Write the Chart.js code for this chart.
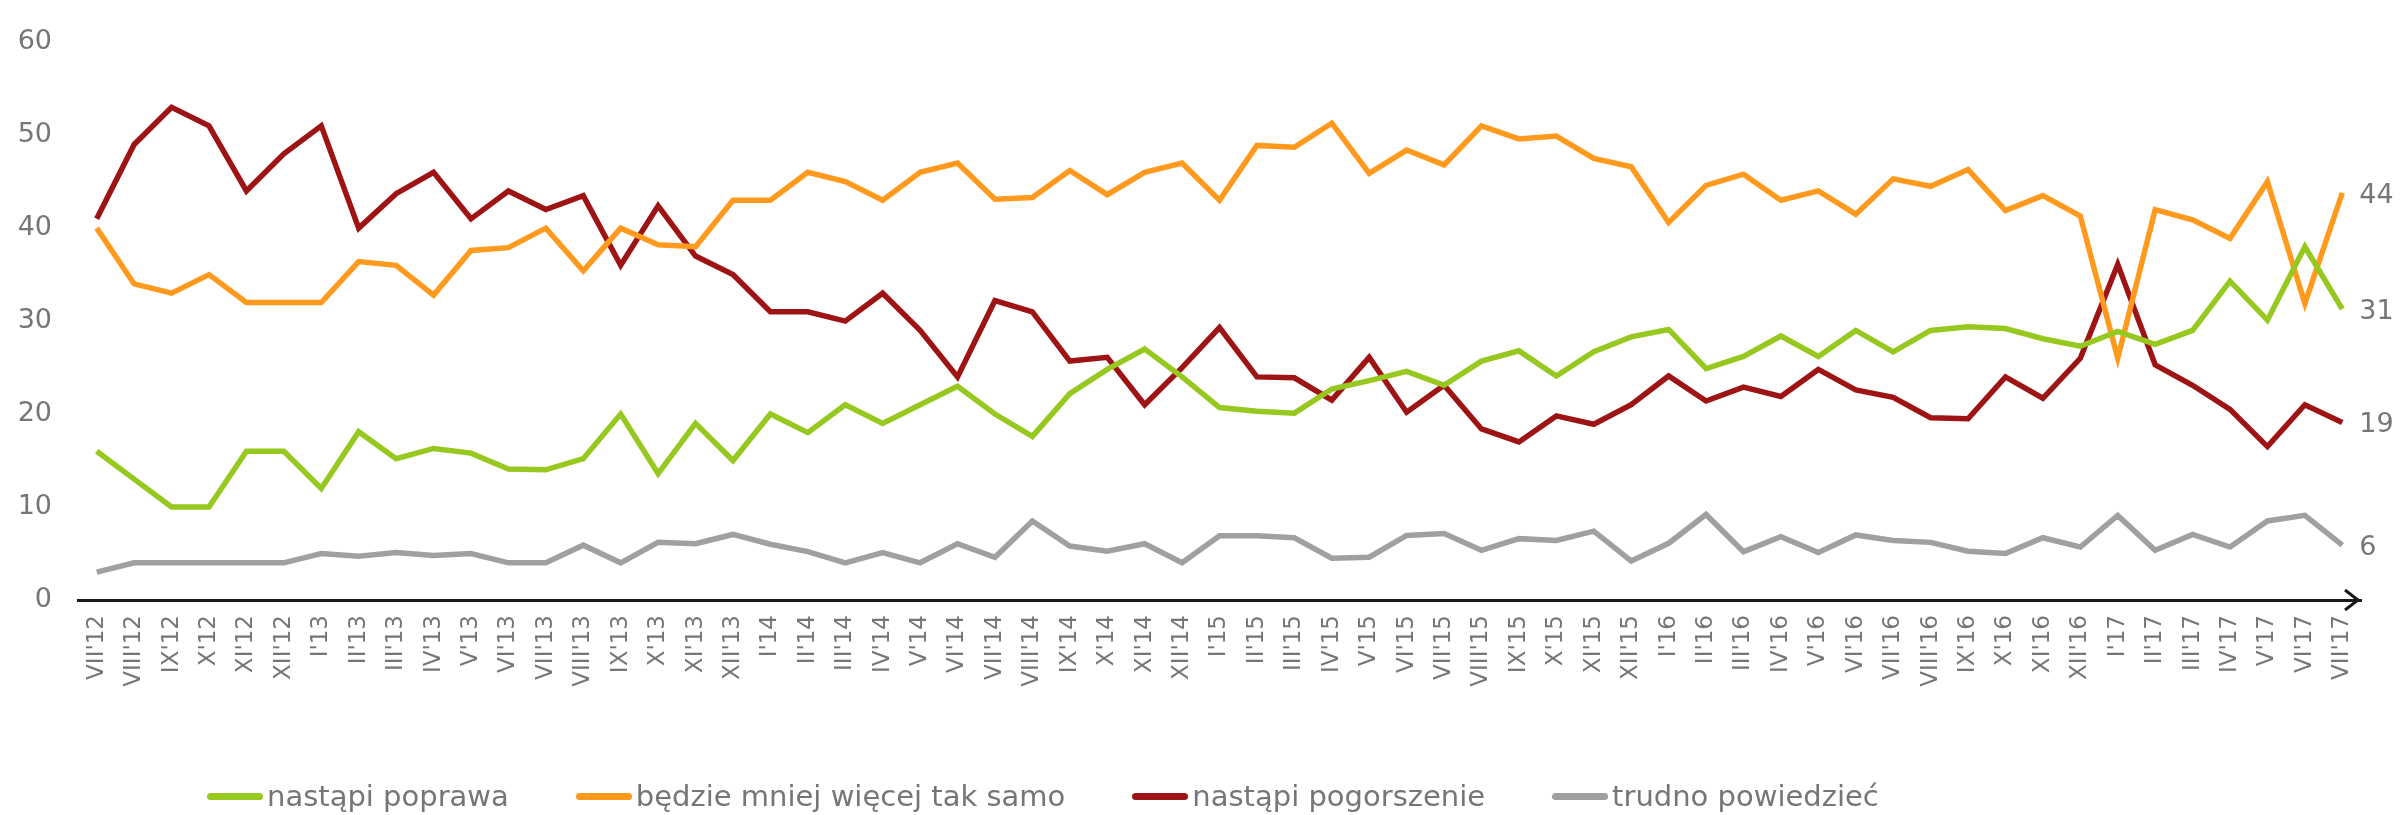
<!DOCTYPE html>
<html lang="pl">
<head>
  <meta charset="UTF-8">
  <title>Sytuacja gospodarcza – oczekiwania</title>
  <script src="https://cdn.jsdelivr.net/npm/chart.js"></script>
  <style>
    body {
      margin: 0;
      background: #fff;
      font-family: "DejaVu Sans", Verdana, sans-serif;
    }
    #wrap {
      position: relative;
      width: 2402px;
      height: 815px;
    }
    #legenda {
      position: absolute;
      left: 207px;
      top: 779px;
      display: flex;
      align-items: center;
      font-size: 29px;
      color: #767676;
      white-space: nowrap;
    }
    .poz {
      display: flex;
      align-items: center;
      margin-right: 67px;
    }
    .kreska {
      width: 56px;
      height: 7px;
      border-radius: 4px;
      margin-right: 4px;
    }
  </style>
</head>
<body>
  <div id="wrap">
    <canvas id="wykres" width="2402" height="815"></canvas>
    <div id="legenda"></div>
  </div>

  <script>
    // miesiace badania
    const miesiace = [
      "VII'12", "VIII'12", "IX'12", "X'12", "XI'12", "XII'12",
      "I'13", "II'13", "III'13", "IV'13", "V'13", "VI'13", "VII'13", "VIII'13", "IX'13", "X'13", "XI'13", "XII'13",
      "I'14", "II'14", "III'14", "IV'14", "V'14", "VI'14", "VII'14", "VIII'14", "IX'14", "X'14", "XI'14", "XII'14",
      "I'15", "II'15", "III'15", "IV'15", "V'15", "VI'15", "VII'15", "VIII'15", "IX'15", "X'15", "XI'15", "XII'15",
      "I'16", "II'16", "III'16", "IV'16", "V'16", "VI'16", "VII'16", "VIII'16", "IX'16", "X'16", "XI'16", "XII'16",
      "I'17", "II'17", "III'17", "IV'17", "V'17", "VI'17", "VII'17"
    ];

    // odpowiedzi w %
    const poprawa = [
      16, 13, 10, 10, 16, 16,
      12, 18.1, 15.2, 16.3, 15.8, 14.1, 14, 15.2, 20, 13.6, 19, 15,
      20, 18, 21, 19, 21, 23, 20, 17.6, 22.2, 24.8, 27, 24,
      20.7, 20.3, 20.1, 22.7, 23.6, 24.6, 23.1, 25.7, 26.8, 24.1, 26.7, 28.3,
      29.1, 24.9, 26.2, 28.4, 26.2, 29, 26.7, 29, 29.4, 29.2, 28.1, 27.3,
      28.9, 27.5, 29, 34.3, 30.1, 38, 31.3
    ];
    const takSamo = [
      40, 34, 33, 35, 32, 32,
      32, 36.4, 36, 32.8, 37.6, 37.9, 40, 35.4, 40, 38.2, 38, 43,
      43, 46, 45, 43, 46, 47, 43.1, 43.3, 46.2, 43.6, 46, 47,
      43, 48.9, 48.7, 51.3, 45.9, 48.4, 46.8, 51, 49.6, 49.9, 47.5, 46.6,
      40.6, 44.6, 45.8, 43, 44, 41.5, 45.3, 44.5, 46.3, 41.9, 43.5, 41.3,
      26, 42, 40.9, 38.9, 45, 31.9, 43.8
    ];
    const pogorszenie = [
      41, 49, 53, 51, 44, 48,
      51, 40, 43.7, 46, 41, 44, 42, 43.5, 36, 42.4, 37, 35,
      31, 31, 30, 33, 29, 24, 32.2, 31, 25.7, 26.1, 21, 25,
      29.3, 24, 23.9, 21.5, 26.1, 20.2, 23.1, 18.4, 17, 19.8, 18.9, 21,
      24.1, 21.4, 22.9, 21.9, 24.8, 22.6, 21.8, 19.6, 19.5, 24, 21.7, 26,
      36.1, 25.3, 23.1, 20.5, 16.5, 21, 19.1
    ];
    const trudno = [
      3, 4, 4, 4, 4, 4,
      5, 4.7, 5.1, 4.8, 5, 4, 4, 5.9, 4, 6.2, 6.05, 7.05,
      6, 5.2, 4, 5.1, 4, 6.05, 4.6, 8.5, 5.8, 5.25, 6.05, 4,
      6.9, 6.9, 6.7, 4.5, 4.6, 6.95, 7.15, 5.35, 6.6, 6.4, 7.4, 4.2,
      6.1, 9.2, 5.2, 6.8, 5.1, 7, 6.4, 6.2, 5.25, 5, 6.7, 5.7,
      9.1, 5.35, 7.05, 5.7, 8.5, 9.1, 5.9
    ];

    const szary = '#767676';

    const serie = [
      { label: 'nastąpi poprawa', data: poprawa, color: '#97c81f' },
      { label: 'będzie mniej więcej tak samo', data: takSamo, color: '#ff9a1e' },
      { label: 'nastąpi pogorszenie', data: pogorszenie, color: '#9e1414' },
      { label: 'trudno powiedzieć', data: trudno, color: '#a0a0a0' }
    ];

    // wartosc przy ostatnim punkcie + strzalka na osi X
    const dodatki = {
      id: 'dodatki',
      afterDatasetsDraw(chart) {
        const ctx = chart.ctx;
        ctx.save();
        ctx.font = '27px "DejaVu Sans"';
        ctx.fillStyle = szary;
        ctx.textAlign = 'left';
        ctx.textBaseline = 'middle';
        chart.data.datasets.forEach((ds, i) => {
          const pts = chart.getDatasetMeta(i).data;
          const p = pts[pts.length - 1];
          const v = ds.data[ds.data.length - 1];
          ctx.fillText(Math.round(v), p.x + 17, p.y + 3);
        });

        const a = chart.chartArea;
        const x = a.right - 3, y = a.bottom;
        ctx.strokeStyle = '#1a1a1a';
        ctx.lineWidth = 3;
        ctx.beginPath();
        ctx.moveTo(x - 13, y - 10);
        ctx.lineTo(x, y);
        ctx.lineTo(x - 13, y + 10);
        ctx.stroke();
        ctx.restore();
      }
    };

    const ctx = document.getElementById('wykres').getContext('2d');
    const wykres = new Chart(ctx, {
      type: 'line',
      data: {
        labels: miesiace,
        datasets: serie.map(s => ({
          label: s.label,
          data: s.data,
          borderColor: s.color,
          backgroundColor: s.color,
          borderWidth: 5.5,
          pointRadius: 0,
          tension: 0,
          fill: false
        }))
      },
      options: {
        responsive: false,
        animation: false,
        layout: {
          padding: { top: 23, right: 41, left: 0, bottom: 0 }
        },
        plugins: {
          legend: { display: false },
          tooltip: { enabled: false }
        },
        scales: {
          x: {
            offset: true,
            grid: { display: false, drawTicks: false },
            border: { display: true, color: '#1a1a1a', width: 3 },
            ticks: {
              autoSkip: false,
              minRotation: 90,
              maxRotation: 90,
              padding: 15,
              color: szary,
              font: { family: 'DejaVu Sans', size: 23 }
            },
            afterFit(scale) { scale.height = 215; }
          },
          y: {
            min: 0,
            max: 60,
            grid: { display: false, drawTicks: false },
            border: { display: false },
            ticks: {
              stepSize: 10,
              padding: 26,
              color: szary,
              font: { family: 'DejaVu Sans', size: 27 }
            },
            afterFit(scale) { scale.width = 78; }
          }
        }
      },
      plugins: [dodatki]
    });

    // legenda pod wykresem
    const legenda = document.getElementById('legenda');
    serie.forEach(s => {
      const el = document.createElement('div');
      el.className = 'poz';
      el.innerHTML = '<span class="kreska" style="background:' + s.color + '"></span><span>' + s.label + '</span>';
      legenda.appendChild(el);
    });
  </script>
</body>
</html>
